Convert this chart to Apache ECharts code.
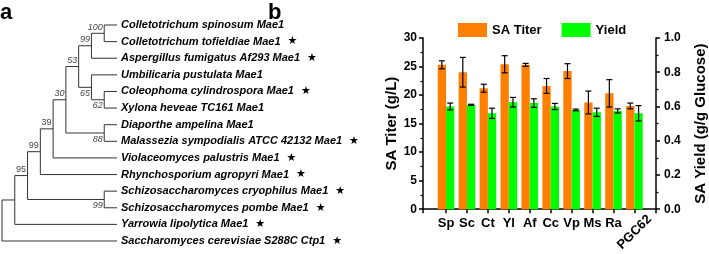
<!DOCTYPE html>
<html>
<head>
<meta charset="utf-8">
<script src="https://cdn.jsdelivr.net/npm/echarts@6/dist/echarts.min.js"></script>
<style>
  html, body { margin: 0; padding: 0; background: #fff; }
  #main { width: 709px; height: 254px; }
</style>
</head>
<body>
<div id="main"></div>
<script>
// ---- panel a: tree ----
var leafNames = [
  'Colletotrichum spinosum Mae1',
  'Colletotrichum tofieldiae Mae1',
  'Aspergillus fumigatus Af293 Mae1',
  'Umbilicaria pustulata Mae1',
  'Coleophoma cylindrospora Mae1',
  'Xylona heveae TC161 Mae1',
  'Diaporthe ampelina Mae1',
  'Malassezia sympodialis ATCC 42132 Mae1',
  'Violaceomyces palustris Mae1',
  'Rhynchosporium agropyri Mae1',
  'Schizosaccharomyces cryophilus Mae1',
  'Schizosaccharomyces pombe Mae1',
  'Yarrowia lipolytica Mae1',
  'Saccharomyces cerevisiae S288C Ctp1'
];
var leafStar = [0, 1, 1, 0, 1, 0, 0, 1, 1, 1, 1, 1, 1, 1];
var leafLevel = 9;
// internal nodes: id, level, children (leaf index or node id), bootstrap
var nodeIds      = ['n100', 'n99a', 'n62', 'n65', 'n53', 'n88', 'n30', 'n39', 'n99b', 'nsp', 'n95', 'nyl', 'root'];
var nodeLevels   = [8, 7, 8, 7, 6, 8, 5, 4, 3, 8, 2, 1, 0];
var nodeChildren = [[0, 1], ['n100', 2], [4, 5], [3, 'n62'], ['n99a', 'n65'], [6, 7], ['n53', 'n88'],
                    ['n30', 8], ['n39', 9], [10, 11], ['n99b', 'nsp'], ['n95', 12], ['nyl', 13]];
var nodeSupport  = ['100', '99', '62', '65', '53', '88', '30', '39', '99', '99', '95', '', ''];

// ---- panel b: bars ----
var strains  = ['Sp', 'Sc', 'Ct', 'Yl', 'Af', 'Cc', 'Vp', 'Ms', 'Ra', 'PGC62'];
var titer    = [25.3, 24.0, 21.2, 25.4, 25.3, 21.6, 24.2, 18.7, 20.3, 18.1];
var titerErr = [0.7, 2.6, 0.7, 1.5, 0.25, 1.3, 1.3, 2.0, 2.4, 0.5];
var yieldV   = [0.60, 0.61, 0.56, 0.625, 0.62, 0.60, 0.58, 0.566, 0.574, 0.56];
var yieldErr = [0.02, 0.003, 0.03, 0.028, 0.025, 0.018, 0.005, 0.024, 0.012, 0.045];

// label style bits for the tree
var supportBelow = ['n62', 'n65', 'n88', 'nsp'];
var supportUpright = ['n39', 'n99b', 'n95'];

// build tree geometry (in level / row units)
var pos = {};
leafNames.forEach(function (n, i) { pos[i] = [leafLevel, i]; });
var segs = [];
var supportItems = [];
nodeIds.forEach(function (id, k) {
  var kids = nodeChildren[k];
  var lv = nodeLevels[k];
  var r0 = pos[kids[0]][1], r1 = pos[kids[kids.length - 1]][1];
  pos[id] = [lv, (r0 + r1) / 2];
  segs.push([lv, r0, lv, r1]);
  kids.forEach(function (c) { segs.push([lv, pos[c][1], pos[c][0], pos[c][1]]); });
  if (nodeSupport[k]) supportItems.push([lv, pos[id][1], nodeSupport[k], id]);
});
var leafItems = leafNames.map(function (n, i) { return [leafLevel, i, n, leafStar[i]]; });

var FONT = '"Liberation Sans", Arial, sans-serif';
var chart = echarts.init(document.getElementById('main'));

function errBars(vals, errs, yIdx, shift) {
  return {
    type: 'custom', xAxisIndex: 1, yAxisIndex: yIdx, z: 5, silent: true,
    data: vals.map(function (v, i) { return [i, v, errs[i]]; }),
    renderItem: function (params, api) {
      var x = api.value(0), v = api.value(1), e = api.value(2);
      var t = api.coord([x, v + e]), b = api.coord([x, v - e]);
      var cx = t[0] + shift, w = 3;
      var st = { stroke: '#000', lineWidth: 1.2 };
      return { type: 'group', children: [
        { type: 'line', shape: { x1: cx, y1: t[1], x2: cx, y2: b[1] }, style: st },
        { type: 'line', shape: { x1: cx - w, y1: t[1], x2: cx + w, y2: t[1] }, style: st },
        { type: 'line', shape: { x1: cx - w, y1: b[1], x2: cx + w, y2: b[1] }, style: st }
      ]};
    }
  };
}

var boldText = { color: '#000', fontWeight: 'bold', fontFamily: FONT };
var xMin = -1.1, xMax = 10.03;
var catFmt = function (v) { return strains[Math.round(v)]; };

chart.setOption({
  animation: false,
  title: [
    { text: 'a', left: 0, top: 2, padding: 0, textStyle: { fontSize: 22, fontWeight: 'bold', fontFamily: FONT, color: '#000' } },
    { text: 'b', left: 268, top: 2, padding: 0, textStyle: { fontSize: 22, fontWeight: 'bold', fontFamily: FONT, color: '#000' } }
  ],
  legend: {
    data: ['SA Titer', 'Yield'], left: 458, top: 23, padding: 0,
    itemWidth: 29, itemHeight: 14, itemGap: 20, icon: 'rect',
    textStyle: { color: '#000', fontWeight: 'bold', fontSize: 13, fontFamily: FONT }
  },
  grid: [
    { left: 2, top: 25, width: 115, height: 216 },
    { left: 423, top: 38, width: 239, height: 176 }
  ],
  xAxis: [
    { gridIndex: 0, type: 'value', min: 0, max: leafLevel, show: false },
    {
      gridIndex: 1, type: 'value', min: xMin, max: xMax, position: 'bottom',
      splitLine: { show: false },
      axisLine: { onZero: false, lineStyle: { color: '#000', width: 1.5 } },
      axisTick: { length: 4, lineStyle: { width: 1.5 }, customValues: [xMin, 0, 1, 2, 3, 4, 5, 6, 7, 8, 9, xMax] },
      axisLabel: Object.assign({ fontSize: 13, margin: 8, customValues: [0, 1, 2, 3, 4, 5, 6, 7, 8], formatter: catFmt }, boldText)
    },
    {
      gridIndex: 1, type: 'value', min: xMin, max: xMax, position: 'bottom', offset: 0,
      splitLine: { show: false }, axisLine: { show: false, onZero: false }, axisTick: { show: false },
      axisLabel: Object.assign({ fontSize: 13, margin: 23, rotate: 45, align: 'center', verticalAlign: 'middle',
        customValues: [9], formatter: catFmt }, boldText)
    }
  ],
  yAxis: [
    { gridIndex: 0, type: 'value', min: 0, max: leafNames.length - 1, inverse: true, show: false },
    {
      gridIndex: 1, type: 'value', min: 0, max: 30, interval: 5, position: 'left',
      splitLine: { show: false },
      axisLine: { show: true, onZero: false, lineStyle: { color: '#000', width: 1.5 } },
      axisTick: { show: true, length: 4, lineStyle: { width: 1.5 } },
      minorTick: { show: true, splitNumber: 2, length: 2.5, lineStyle: { color: '#000', width: 1.2 } },
      axisLabel: Object.assign({ fontSize: 12, margin: 6 }, boldText),
      name: 'SA Titer (g/L)', nameLocation: 'middle', nameRotate: 90, nameGap: 24,
      nameTextStyle: Object.assign({ fontSize: 15 }, boldText)
    },
    {
      gridIndex: 1, type: 'value', min: 0, max: 1, interval: 0.2, position: 'right',
      splitLine: { show: false },
      axisLine: { show: true, onZero: false, lineStyle: { color: '#000', width: 1.5 } },
      axisTick: { show: true, length: 4, lineStyle: { width: 1.5 } },
      minorTick: { show: true, splitNumber: 2, length: 2.5, lineStyle: { color: '#000', width: 1.2 } },
      axisLabel: Object.assign({ fontSize: 12, margin: 8, formatter: function (v) { return v.toFixed(1); } }, boldText),
      name: 'SA Yield (g/g Glucose)', nameLocation: 'middle', nameRotate: 90, nameGap: 37,
      nameTextStyle: Object.assign({ fontSize: 15 }, boldText)
    }
  ],
  series: [
    {
      type: 'custom', xAxisIndex: 0, yAxisIndex: 0, silent: true,
      data: segs,
      renderItem: function (params, api) {
        var a = api.coord([api.value(0), api.value(1)]);
        var b = api.coord([api.value(2), api.value(3)]);
        return { type: 'line', shape: { x1: a[0], y1: a[1], x2: b[0], y2: b[1] },
                 style: { stroke: '#333', lineWidth: 1 } };
      }
    },
    {
      type: 'custom', xAxisIndex: 0, yAxisIndex: 0, silent: true,
      data: leafItems,
      renderItem: function (params, api) {
        var p = api.coord([api.value(0), api.value(1)]);
        var it = leafItems[params.dataIndex];
        return { type: 'text', x: p[0] + 4, y: p[1],
          style: { text: '{n|' + it[2] + '}' + (it[3] ? '{s|  ★}' : ''), verticalAlign: 'middle', align: 'left',
            rich: {
              n: { font: 'italic bold 11px ' + FONT, fill: '#000' },
              s: { font: '11px "DejaVu Sans"', fill: '#000' }
            } } };
      }
    },
    {
      type: 'custom', xAxisIndex: 0, yAxisIndex: 0, silent: true,
      data: supportItems,
      renderItem: function (params, api) {
        var it = supportItems[params.dataIndex];
        var p = api.coord([it[0], it[1]]);
        var below = supportBelow.indexOf(it[3]) >= 0;
        var ital = supportUpright.indexOf(it[3]) < 0;
        return { type: 'text', x: p[0] - 1.5, y: below ? p[1] + 1.5 : p[1] - 1.5,
          style: { text: it[2], align: 'right', verticalAlign: below ? 'top' : 'bottom',
            font: (ital ? 'italic ' : '') + '9px ' + FONT, fill: '#444' } };
      }
    },
    {
      name: 'SA Titer', type: 'bar', xAxisIndex: 1, yAxisIndex: 1,
      data: titer.map(function (v, i) { return [i, v]; }),
      barWidth: 8.3, barGap: '0%', itemStyle: { color: '#FF7F00' }
    },
    {
      name: 'Yield', type: 'bar', xAxisIndex: 1, yAxisIndex: 2,
      data: yieldV.map(function (v, i) { return [i, v]; }),
      barWidth: 8.3, barGap: '0%', itemStyle: { color: '#00FF00' }
    },
    errBars(titer, titerErr, 1, -4.15),
    errBars(yieldV, yieldErr, 2, 4.15)
  ]
});
</script>
</body>
</html>
